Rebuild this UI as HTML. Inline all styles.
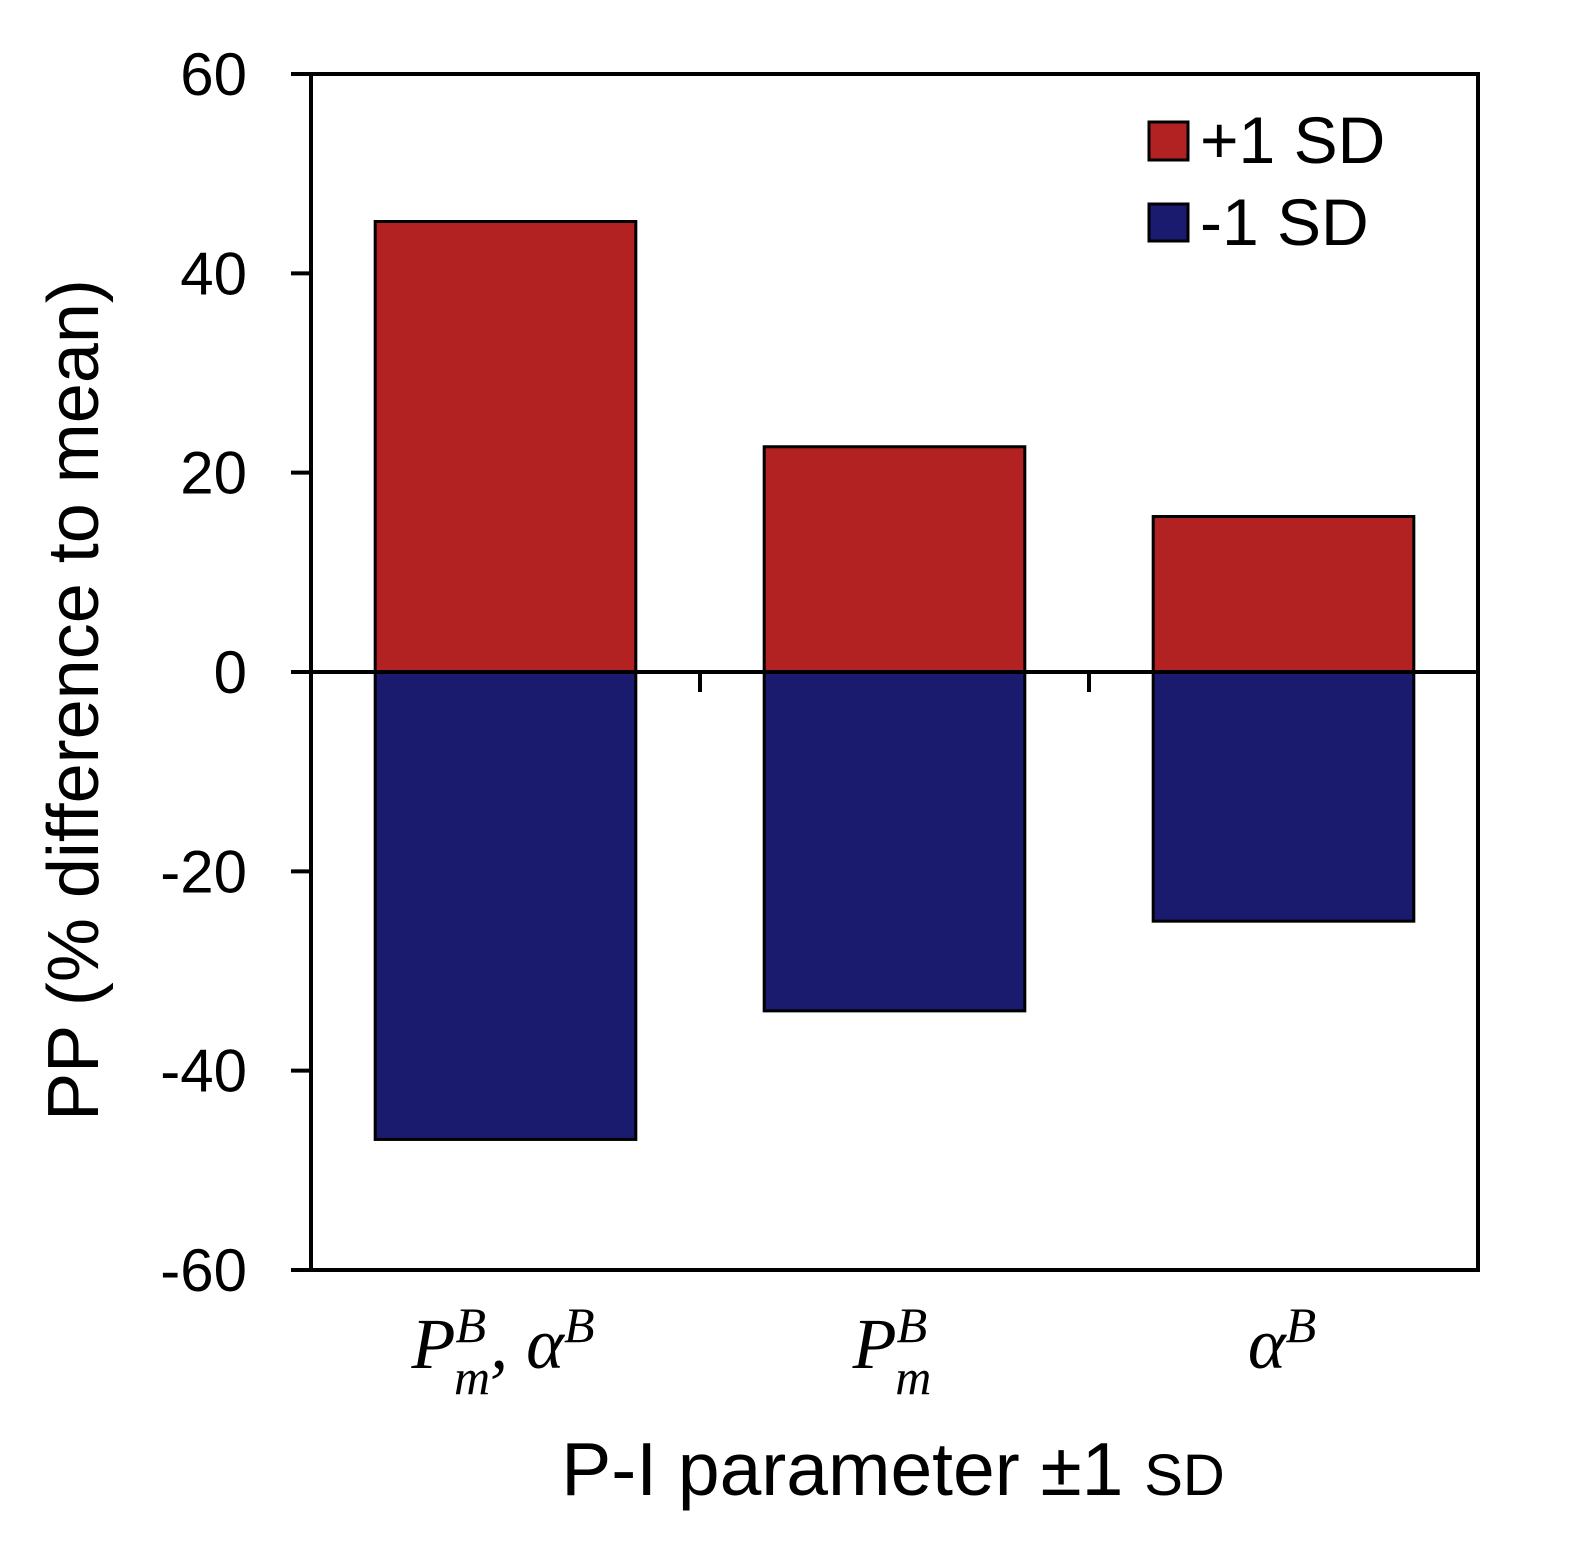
<!DOCTYPE html>
<html><head><meta charset="utf-8"><style>
html,body{margin:0;padding:0;background:#fff;}
svg{display:block;}
text{font-family:"Liberation Sans",sans-serif;fill:#000;}
.m{font-family:"Liberation Serif",serif;font-style:italic;}
</style></head><body>
<svg id="chart" width="1570" height="1541" viewBox="0 0 1570 1541">
<g id="bars"></g>
<g id="axes"></g>
<g>
 <rect x="1149" y="122" width="39" height="38" fill="#b22222" stroke="#000" stroke-width="3"/>
 <text x="1200" y="163" font-size="66">+1 SD</text>
 <rect x="1149" y="204" width="39" height="37" fill="#1a1a6e" stroke="#000" stroke-width="3"/>
 <text x="1200" y="245" font-size="66">-1 SD</text>
</g>
<g>
 <text class="m" x="503" y="1368" font-size="72" text-anchor="middle">P<tspan dy="-26" font-size="50">B</tspan><tspan dx="-32" dy="52" font-size="50">m</tspan><tspan dy="-26">, α</tspan><tspan dy="-26" font-size="50">B</tspan></text>
 <text class="m" x="892" y="1368" font-size="72" text-anchor="middle">P<tspan dy="-26" font-size="50">B</tspan><tspan dx="-32" dy="52" font-size="50">m</tspan></text>
 <text class="m" x="1282" y="1368" font-size="72" text-anchor="middle">α<tspan dy="-26" font-size="50">B</tspan></text>
</g>
<text x="893" y="1495" font-size="75" text-anchor="middle">P-I parameter ±1 <tspan font-size="58">SD</tspan></text>
<text transform="translate(98,700) rotate(-90)" font-size="72" text-anchor="middle">PP (% difference to mean)</text>
</svg>
<script>
const categories=["Pm,alpha","Pm","alpha"];
const plusValues=[45.2,22.6,15.6];
const minusValues=[-46.9,-34,-25];
const yTicks=[60,40,20,0,-20,-40,-60];
const NS="http://www.w3.org/2000/svg";
const L=311,R=1478,T=74,B=1270,ymin=-60,ymax=60;
const y=v=>T+(ymax-v)/(ymax-ymin)*(B-T);
const band=(R-L)/categories.length;
const xc=i=>L+band*(i+0.5);
const bw=band*0.67;
const bars=document.getElementById('bars'),axes=document.getElementById('axes');
function mk(tag,at,p){const e=document.createElementNS(NS,tag);for(const k in at)e.setAttribute(k,at[k]);p.appendChild(e);return e;}
categories.forEach((c,i)=>{
 const y0=y(0);
 let r=mk('rect',{x:xc(i)-bw/2,y:y(plusValues[i]),width:bw,height:y0-y(plusValues[i]),fill:'#b22222',stroke:'#000','stroke-width':3},bars);
 
 
 r=mk('rect',{x:xc(i)-bw/2,y:y0,width:bw,height:y(minusValues[i])-y0,fill:'#1a1a6e',stroke:'#000','stroke-width':3},bars);
 
 
});
let f=mk('rect',{x:L,y:T,width:R-L,height:B-T,fill:'none',stroke:'#000','stroke-width':4},axes);


let z=mk('line',{x1:L,x2:R,y1:y(0),y2:y(0),stroke:'#000','stroke-width':4},axes);


for(let i=1;i<categories.length;i++){
 const t=mk('line',{x1:L+band*i,x2:L+band*i,y1:y(0),y2:y(0)+20,stroke:'#000','stroke-width':4},axes);
 
 
}
yTicks.forEach(v=>{
 const t=mk('line',{x1:L-20,x2:L,y1:y(v),y2:y(v),stroke:'#000','stroke-width':4},axes);
 
 
 const tx=mk('text',{x:247,y:y(v)+21,'font-size':60,'text-anchor':'end'},axes);
 tx.textContent=v;
 
 
});
</script>
</body></html>
